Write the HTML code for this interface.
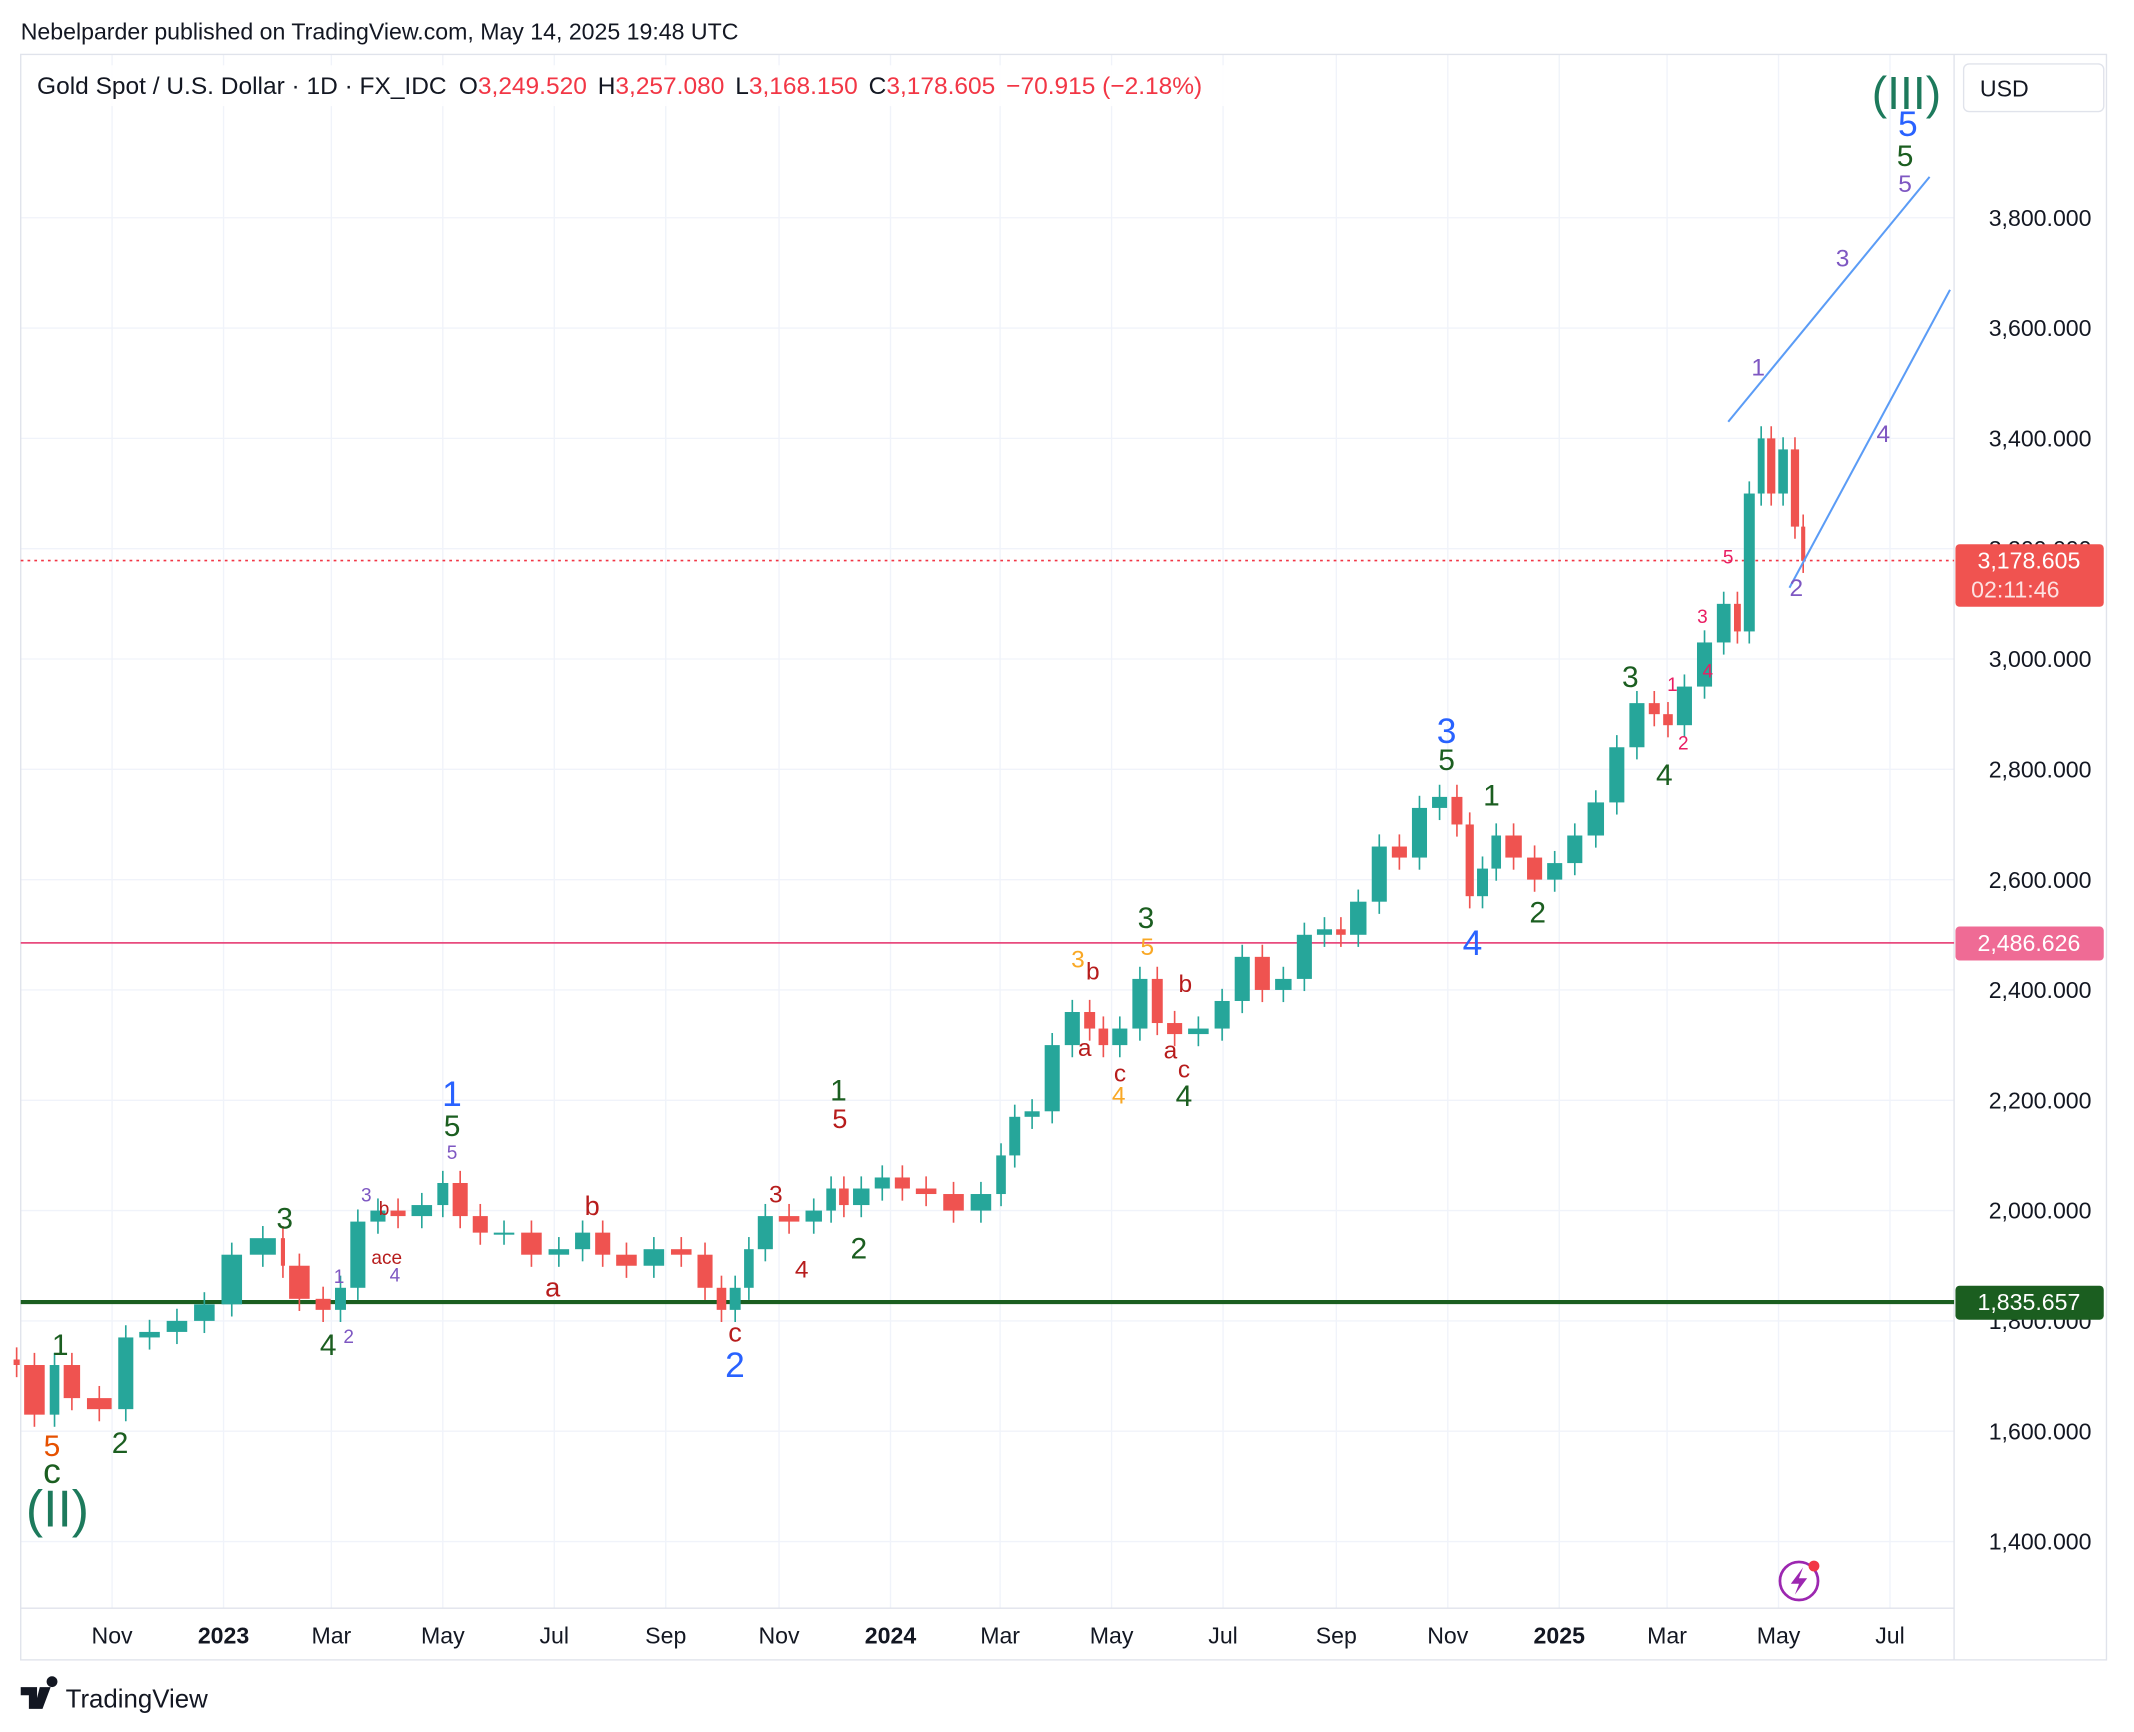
<!DOCTYPE html>
<html><head><meta charset="utf-8">
<style>
html,body{margin:0;padding:0;background:#fff;}
svg{display:block;font-family:"Liberation Sans",sans-serif;}
</style></head>
<body>
<svg id="chart" width="2134" height="1732" viewBox="0 0 1568 1273" xmlns="http://www.w3.org/2000/svg">
<rect width="1568" height="1273" fill="#fff"/>
<text x="15" y="29" font-size="17" fill="#131722">Nebelparder published on TradingView.com, May 14, 2025 19:48 UTC</text>
<g id="grid"></g>
<rect x="15" y="40" width="1533" height="1180" fill="none" stroke="#e0e3eb" stroke-width="1"/>
<line x1="1436" y1="40" x2="1436" y2="1220" stroke="#e0e3eb"/>
<line x1="15" y1="1182" x2="1436" y2="1182" stroke="#e0e3eb"/>
<g id="yticks"></g>
<g id="xticks"></g>
<g id="hlines">
<line x1="15" y1="412" x2="1436" y2="412" stroke="#f23645" stroke-width="1.2" stroke-dasharray="2,3"/>
<line x1="15" y1="693" x2="1436" y2="693" stroke="#e84b7e" stroke-width="1.2"/>
<line x1="15" y1="957" x2="1436" y2="957" stroke="#1b5e20" stroke-width="3"/>
</g>
<g id="candles"></g>
<g stroke="#5b9cf6" stroke-width="1.5">
<line x1="1270" y1="310" x2="1418" y2="130"/>
<line x1="1315" y1="432" x2="1433" y2="213"/>
</g>
<g id="labels" text-anchor="middle"></g>
<rect x="18" y="48" width="890" height="30" fill="#fff" opacity="0.9"/>
<text x="27" y="69" font-size="18" fill="#131722">Gold Spot / U.S. Dollar · 1D · FX_IDC <tspan dx="4">O</tspan><tspan fill="#f23645">3,249.520</tspan><tspan dx="8">H</tspan><tspan fill="#f23645">3,257.080</tspan><tspan dx="8">L</tspan><tspan fill="#f23645">3,168.150</tspan><tspan dx="8">C</tspan><tspan fill="#f23645">3,178.605</tspan><tspan dx="8" fill="#f23645">−70.915 (−2.18%)</tspan></text>
<rect x="1443" y="47" width="103" height="35" rx="4" fill="#fff" stroke="#e0e3eb"/>
<text x="1455" y="71" font-size="17" fill="#131722">USD</text>
<g>
<rect x="1437" y="400" width="109" height="46" rx="3" fill="#f05350"/>
<text x="1491" y="418" font-size="17" fill="#fff" text-anchor="middle">3,178.605</text>
<text x="1481" y="439" font-size="17" fill="#fde2e2" text-anchor="middle">02:11:46</text>
<rect x="1437" y="681" width="109" height="25" rx="3" fill="#ef6b95"/>
<text x="1491" y="699" font-size="17" fill="#fff" text-anchor="middle">2,486.626</text>
<rect x="1437" y="945" width="109" height="25" rx="3" fill="#1b5e20"/>
<text x="1491" y="963" font-size="17" fill="#fff" text-anchor="middle">1,835.657</text>
</g>
<g>
<circle cx="1322" cy="1162" r="14" fill="none" stroke="#9c27b0" stroke-width="2"/>
<path d="M1325 1152 L1316 1164 L1322 1164 L1319 1172 L1328 1160 L1322 1160 Z" fill="#9c27b0"/>
<circle cx="1333" cy="1151" r="4" fill="#f23645"/>
</g>
<g>
<path d="M15 1240 h12 v16 h-6 v-10 h-6z M29 1240 h8 l-6 16 h-6z M38 1240 a4 4 0 1 1 0.01 0z" fill="#131722"/>
<text x="48" y="1255" font-size="19" fill="#131722">TradingView</text>
</g>
<script>
const days = [0,15,22,34,52,63,78,93,108,123,142,145,160,171,179,190,201,212,227,235,246,257,272,287,302,313,324,339,354,369,380,387,395,402,413,428,440,447,454,466,477,488,503,518,533,540,548,559,570,581,589,596,607,618,626,637,652,663,674,685,697,708,719,726,738,749,760,771,782,790,796,804,811,823,834,845,856,868,879,890,898,905,916,927,937,942,950,955,961,968,974,977];
const closes = [1720,1630,1720,1660,1640,1770,1780,1800,1830,1920,1950,1900,1840,1820,1860,1980,2000,1990,2010,2050,1990,1960,1960,1920,1930,1960,1920,1900,1930,1920,1860,1820,1860,1930,1990,1980,2000,2040,2010,2040,2060,2040,2030,2000,2030,2100,2170,2180,2300,2360,2330,2300,2330,2420,2340,2320,2330,2380,2460,2400,2420,2500,2510,2500,2560,2660,2640,2730,2750,2700,2570,2620,2680,2640,2600,2630,2680,2740,2840,2920,2900,2880,2950,3030,3100,3050,3300,3400,3300,3380,3240,3178];
const yTicks = [1400,1600,1800,2000,2200,2400,2600,2800,3000,3200,3400,3600,3800];
const xTickDays = [50,111,170,231,292,353,415,476,536,597,658,720,781,842,901,962,1023];
const xTickLabels = ["Nov","2023","Mar","May","Jul","Sep","Nov","2024","Mar","May","Jul","Sep","Nov","2025","Mar","May","Jul"];
const NS="http://www.w3.org/2000/svg";
const yOf = p => 1133-(p-1400)*0.4054;
const xOf = d => 15+d*1.343;
function mk(tag,attrs,parent){const e=document.createElementNS(NS,tag);for(const k in attrs)e.setAttribute(k,attrs[k]);parent.appendChild(e);return e;}
const grid=document.getElementById('grid'), yt=document.getElementById('yticks'), xt=document.getElementById('xticks');
yTicks.forEach(p=>{
  const l=mk('line',{x1:15,x2:1436,y1:yOf(p),y2:yOf(p),stroke:'#f0f3fa'},grid);
  
  
  const t=mk('text',{x:1537,y:yOf(p)+6,'font-size':17,fill:'#131722','text-anchor':'end'},yt);
  t.textContent=p.toLocaleString('en-US')+'.000';
  
  
});
xTickDays.forEach((d,i)=>{
  const l=mk('line',{x1:xOf(d),x2:xOf(d),y1:40,y2:1182,stroke:'#f0f3fa'},grid);
  
  
  const lab=xTickLabels[i];
  const t=mk('text',{x:xOf(d),y:1208,'font-size':17,fill:'#131722','text-anchor':'middle','font-weight':/^\d/.test(lab)?'bold':'normal'},xt);
  t.textContent=lab;
  
  
});
const cg=document.getElementById('candles');
closes.forEach((c,i)=>{
  const o=i?closes[i-1]:c+10;
  const up=c>=o, col=up?'#26a69a':'#ef5350';
  const x0=i?xOf(days[i-1]):xOf(days[i])-6;
  const x1=xOf(days[i]);
  const hi=Math.max(o,c)+22, lo=Math.min(o,c)-22;
  const xm=(x0+x1)/2;
  const w=mk('line',{x1:xm,x2:xm,y1:yOf(hi),y2:yOf(lo),stroke:col,'stroke-width':1.2},cg);
  
  
  const top=yOf(Math.max(o,c)), h=Math.max(1.5,Math.abs(yOf(o)-yOf(c)));
  const bw=Math.max(2,(x1-x0)*0.75);
  const b=mk('rect',{x:xm-bw/2,y:top,width:bw,height:h,fill:col},cg);
  
  
});
const lg=document.getElementById('labels');
const L=[
[1401,80,34,'#1d7a5c','(III)'],[1402,100,26,'#2962ff','5'],[1400,122,22,'#1b5e20','5'],[1400,141,18,'#7e57c2','5'],
[1354,196,18,'#7e57c2','3'],[1292,276,18,'#7e57c2','1'],[1384,325,18,'#7e57c2','4'],[1320,438,18,'#7e57c2','2'],
[1063,546,26,'#2962ff','3'],[1063,566,22,'#1b5e20','5'],[1096,592,22,'#1b5e20','1'],[1082,702,26,'#2962ff','4'],[1130,678,22,'#1b5e20','2'],
[1198,505,22,'#1b5e20','3'],[1223,577,22,'#1b5e20','4'],[1229,508,14,'#e91e63','1'],[1237,551,14,'#e91e63','2'],[1251,458,14,'#e91e63','3'],[1255,498,14,'#e91e63','4'],[1270,414,14,'#e91e63','5'],
[842,682,22,'#1b5e20','3'],[843,702,18,'#f9a825','5'],[792,711,18,'#f9a825','3'],[803,720,18,'#b71c1c','b'],[797,776,18,'#b71c1c','a'],[823,795,18,'#b71c1c','c'],[822,811,18,'#f9a825','4'],
[871,729,18,'#b71c1c','b'],[860,778,18,'#b71c1c','a'],[870,792,18,'#b71c1c','c'],[870,813,22,'#1b5e20','4'],
[616,809,22,'#1b5e20','1'],[617,829,20,'#b71c1c','5'],[570,884,18,'#b71c1c','3'],[589,939,18,'#b71c1c','4'],[631,925,22,'#1b5e20','2'],
[540,986,20,'#b71c1c','c'],[540,1012,26,'#2962ff','2'],[406,953,20,'#b71c1c','a'],[435,893,20,'#b71c1c','b'],
[332,813,26,'#2962ff','1'],[332,835,22,'#1b5e20','5'],[332,852,14,'#7e57c2','5'],[209,903,22,'#1b5e20','3'],[241,996,22,'#1b5e20','4'],[249,943,14,'#7e57c2','1'],[256,987,14,'#7e57c2','2'],
[269,883,14,'#7e57c2','3'],[282,893,14,'#b71c1c','b'],[284,929,14,'#b71c1c','ace'],[290,942,14,'#7e57c2','4'],
[44,996,22,'#1b5e20','1'],[88,1068,22,'#1b5e20','2'],[38,1070,22,'#e65100','5'],[38,1090,26,'#1b5e20','c'],[42,1122,38,'#1d7a5c','(II)']
];
L.forEach(a=>{
  const t=mk('text',{x:a[0],y:a[1],'font-size':a[2],fill:a[3]},lg);
  t.textContent=a[4];
  
  
});
</script>
</svg>
</body></html>
